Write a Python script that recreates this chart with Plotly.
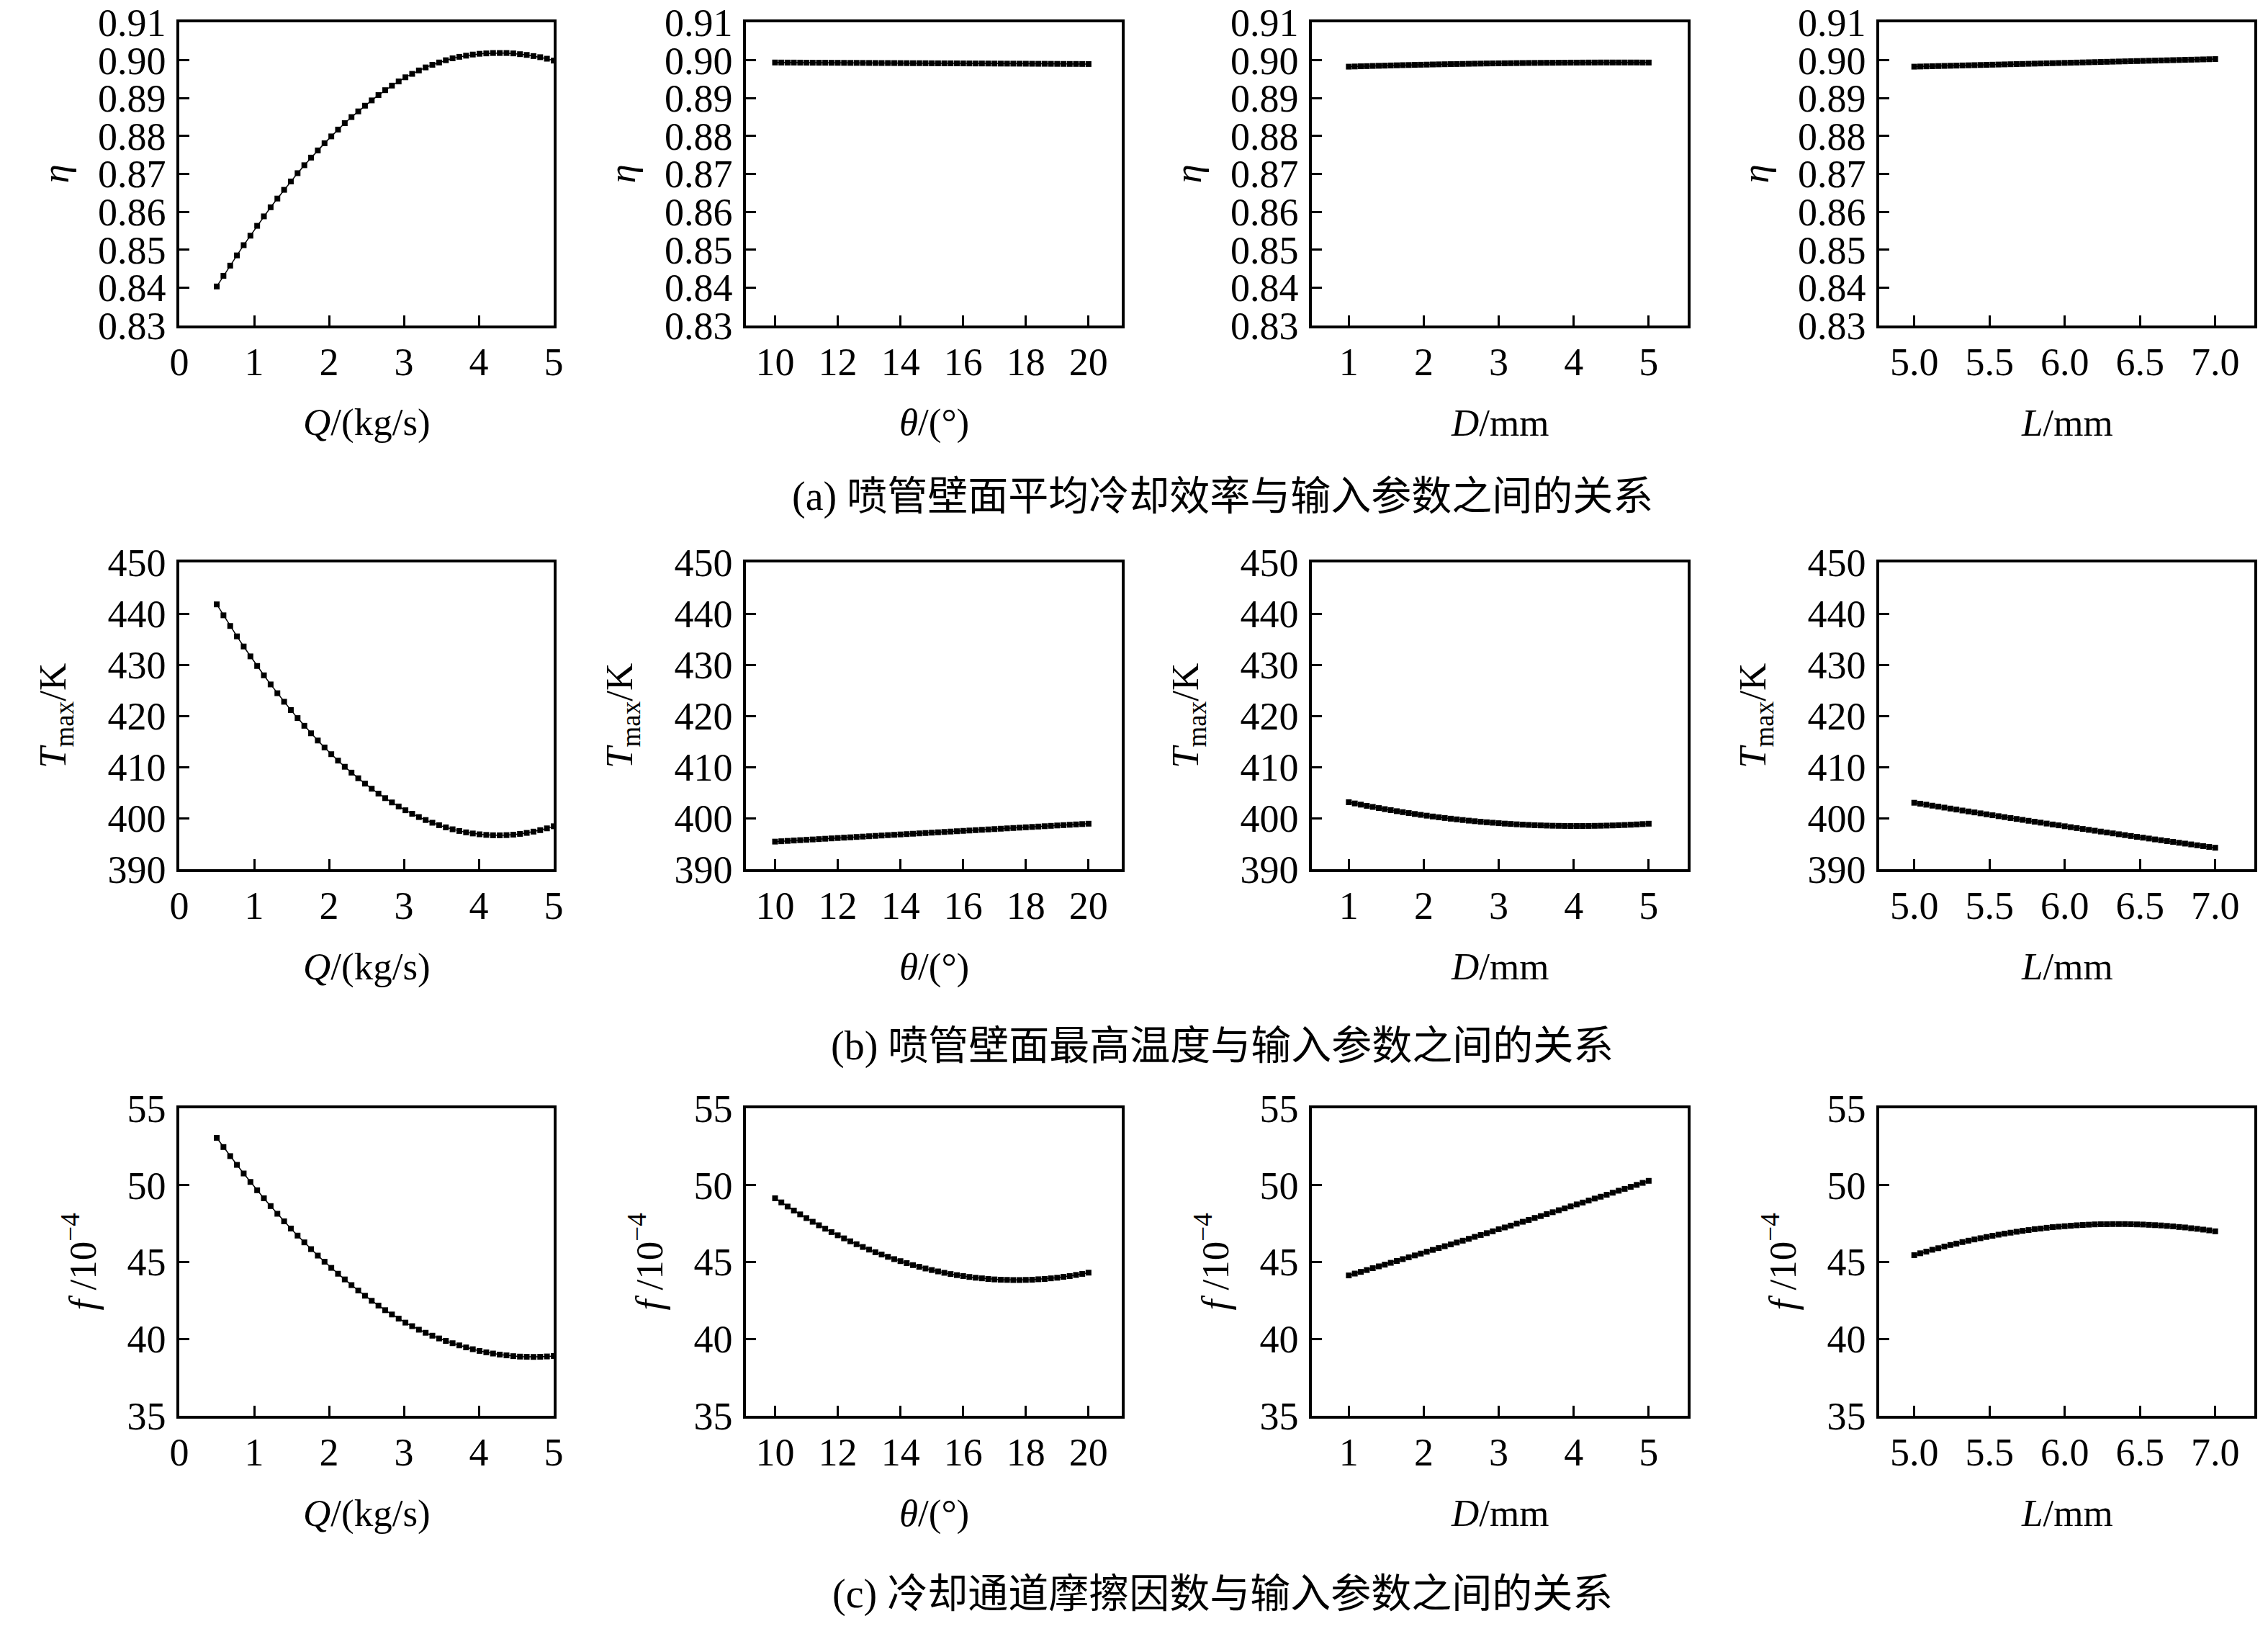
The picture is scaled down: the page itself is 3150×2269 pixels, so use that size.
import plotly.graph_objects as go
from plotly.subplots import make_subplots

W, H = 3150, 2269

# input parameters (x of every panel in a column)
q_vals = [0.50, 0.59, 0.68, 0.77, 0.86, 0.95, 1.04, 1.13, 1.22, 1.31, 1.40, 1.49, 1.58, 1.67, 1.76, 1.85, 1.94,
          2.03, 2.12, 2.21, 2.30, 2.39, 2.48, 2.57, 2.66, 2.75, 2.84, 2.93, 3.02, 3.11, 3.20, 3.29, 3.38, 3.47,
          3.56, 3.65, 3.74, 3.83, 3.92, 4.01, 4.10, 4.19, 4.28, 4.37, 4.46, 4.55, 4.64, 4.73, 4.82, 4.91, 5.00]
theta_vals = [10.0, 10.2, 10.4, 10.6, 10.8, 11.0, 11.2, 11.4, 11.6, 11.8, 12.0, 12.2, 12.4, 12.6, 12.8, 13.0, 13.2,
              13.4, 13.6, 13.8, 14.0, 14.2, 14.4, 14.6, 14.8, 15.0, 15.2, 15.4, 15.6, 15.8, 16.0, 16.2, 16.4, 16.6,
              16.8, 17.0, 17.2, 17.4, 17.6, 17.8, 18.0, 18.2, 18.4, 18.6, 18.8, 19.0, 19.2, 19.4, 19.6, 19.8, 20.0]
d_vals = [1.00, 1.08, 1.16, 1.24, 1.32, 1.40, 1.48, 1.56, 1.64, 1.72, 1.80, 1.88, 1.96, 2.04, 2.12, 2.20, 2.28,
          2.36, 2.44, 2.52, 2.60, 2.68, 2.76, 2.84, 2.92, 3.00, 3.08, 3.16, 3.24, 3.32, 3.40, 3.48, 3.56, 3.64,
          3.72, 3.80, 3.88, 3.96, 4.04, 4.12, 4.20, 4.28, 4.36, 4.44, 4.52, 4.60, 4.68, 4.76, 4.84, 4.92, 5.00]
l_vals = [5.00, 5.04, 5.08, 5.12, 5.16, 5.20, 5.24, 5.28, 5.32, 5.36, 5.40, 5.44, 5.48, 5.52, 5.56, 5.60, 5.64,
          5.68, 5.72, 5.76, 5.80, 5.84, 5.88, 5.92, 5.96, 6.00, 6.04, 6.08, 6.12, 6.16, 6.20, 6.24, 6.28, 6.32,
          6.36, 6.40, 6.44, 6.48, 6.52, 6.56, 6.60, 6.64, 6.68, 6.72, 6.76, 6.80, 6.84, 6.88, 6.92, 6.96, 7.00]

# (a) mean cooling efficiency
eta_q = [0.8403, 0.8431, 0.8458, 0.8485, 0.8512, 0.8537, 0.8563, 0.8588, 0.8612, 0.8635, 0.8658, 0.8680, 0.8702,
         0.8723, 0.8743, 0.8762, 0.8781, 0.8799, 0.8817, 0.8834, 0.8850, 0.8865, 0.8880, 0.8894, 0.8908, 0.8921,
         0.8933, 0.8944, 0.8955, 0.8964, 0.8973, 0.8981, 0.8988, 0.8994, 0.9000, 0.9005, 0.9009, 0.9012, 0.9015,
         0.9017, 0.9018, 0.9019, 0.9019, 0.9019, 0.9018, 0.9016, 0.9014, 0.9011, 0.9008, 0.9004, 0.8999]
eta_theta = [0.89940, 0.89939, 0.89938, 0.89938, 0.89937, 0.89936, 0.89935, 0.89934, 0.89934, 0.89933, 0.89932,
             0.89931, 0.89930, 0.89930, 0.89929, 0.89928, 0.89927, 0.89926, 0.89926, 0.89925, 0.89924, 0.89923,
             0.89922, 0.89922, 0.89921, 0.89920, 0.89919, 0.89918, 0.89918, 0.89917, 0.89916, 0.89915, 0.89914,
             0.89914, 0.89913, 0.89912, 0.89911, 0.89910, 0.89910, 0.89909, 0.89908, 0.89907, 0.89906, 0.89906,
             0.89905, 0.89904, 0.89903, 0.89902, 0.89902, 0.89901, 0.89900]
eta_d = [0.89830, 0.89835, 0.89840, 0.89844, 0.89849, 0.89853, 0.89857, 0.89862, 0.89866, 0.89870, 0.89873,
         0.89877, 0.89881, 0.89884, 0.89888, 0.89891, 0.89894, 0.89897, 0.89900, 0.89903, 0.89906, 0.89909,
         0.89911, 0.89914, 0.89916, 0.89918, 0.89920, 0.89922, 0.89924, 0.89926, 0.89928, 0.89929, 0.89931,
         0.89932, 0.89933, 0.89935, 0.89936, 0.89937, 0.89937, 0.89938, 0.89939, 0.89939, 0.89940, 0.89940,
         0.89940, 0.89940, 0.89940, 0.89940, 0.89940, 0.89939, 0.89939]
eta_l = [0.89830, 0.89834, 0.89838, 0.89842, 0.89846, 0.89850, 0.89854, 0.89858, 0.89862, 0.89866, 0.89870,
         0.89874, 0.89878, 0.89882, 0.89886, 0.89890, 0.89894, 0.89898, 0.89902, 0.89906, 0.89910, 0.89914,
         0.89918, 0.89922, 0.89926, 0.89930, 0.89934, 0.89938, 0.89942, 0.89946, 0.89950, 0.89954, 0.89958,
         0.89962, 0.89966, 0.89970, 0.89974, 0.89978, 0.89982, 0.89986, 0.89990, 0.89994, 0.89998, 0.90002,
         0.90006, 0.90010, 0.90014, 0.90018, 0.90022, 0.90026, 0.90030]

# (b) max wall temperature, K
tmax_q = [441.80, 439.66, 437.57, 435.54, 433.56, 431.63, 429.75, 427.92, 426.14, 424.42, 422.75, 421.13, 419.56,
          418.05, 416.58, 415.17, 413.81, 412.50, 411.24, 410.04, 408.89, 407.79, 406.74, 405.74, 404.79, 403.90,
          403.06, 402.27, 401.53, 400.84, 400.20, 399.62, 399.09, 398.61, 398.19, 397.81, 397.48, 397.21, 396.99,
          396.83, 396.71, 396.64, 396.63, 396.67, 396.76, 396.91, 397.10, 397.35, 397.64, 397.99, 398.40]
tmax_theta = [395.40, 395.47, 395.54, 395.61, 395.68, 395.75, 395.82, 395.89, 395.96, 396.03, 396.10, 396.17,
              396.24, 396.31, 396.38, 396.45, 396.52, 396.59, 396.66, 396.73, 396.80, 396.87, 396.94, 397.01,
              397.08, 397.15, 397.22, 397.29, 397.36, 397.43, 397.50, 397.57, 397.64, 397.71, 397.78, 397.85,
              397.92, 397.99, 398.06, 398.13, 398.20, 398.27, 398.34, 398.41, 398.48, 398.55, 398.62, 398.69,
              398.76, 398.83, 398.90]
tmax_d = [403.10, 402.86, 402.63, 402.40, 402.18, 401.96, 401.75, 401.55, 401.35, 401.16, 400.98, 400.80, 400.63,
          400.47, 400.31, 400.16, 400.02, 399.88, 399.75, 399.62, 399.50, 399.39, 399.28, 399.18, 399.09, 399.00,
          398.92, 398.85, 398.78, 398.72, 398.66, 398.61, 398.57, 398.53, 398.50, 398.48, 398.46, 398.45, 398.45,
          398.45, 398.46, 398.48, 398.50, 398.53, 398.56, 398.60, 398.65, 398.70, 398.76, 398.83, 398.90]
tmax_l = [403.00, 402.81, 402.62, 402.43, 402.24, 402.05, 401.86, 401.67, 401.48, 401.30, 401.11, 400.93, 400.74,
          400.55, 400.37, 400.19, 400.01, 399.83, 399.65, 399.47, 399.29, 399.11, 398.93, 398.75, 398.58, 398.40,
          398.22, 398.05, 397.87, 397.70, 397.53, 397.36, 397.18, 397.01, 396.84, 396.67, 396.50, 396.33, 396.17,
          396.00, 395.83, 395.67, 395.50, 395.34, 395.17, 395.01, 394.85, 394.68, 394.52, 394.36, 394.20]

# (c) friction factor, 1e-4
f_q = [53.08, 52.48, 51.89, 51.32, 50.76, 50.21, 49.67, 49.15, 48.64, 48.14, 47.65, 47.18, 46.72, 46.28, 45.84,
       45.42, 45.02, 44.62, 44.24, 43.87, 43.50, 43.15, 42.81, 42.48, 42.17, 41.87, 41.59, 41.32, 41.06, 40.83,
       40.60, 40.40, 40.21, 40.03, 39.87, 39.72, 39.58, 39.45, 39.33, 39.22, 39.13, 39.05, 38.98, 38.93, 38.88,
       38.85, 38.84, 38.83, 38.84, 38.86, 38.89]
f_theta = [49.15, 48.88, 48.61, 48.35, 48.10, 47.86, 47.62, 47.39, 47.17, 46.95, 46.74, 46.54, 46.35, 46.16, 45.98,
           45.81, 45.64, 45.49, 45.34, 45.19, 45.06, 44.93, 44.80, 44.69, 44.58, 44.48, 44.39, 44.30, 44.22, 44.15,
           44.09, 44.03, 43.98, 43.94, 43.90, 43.87, 43.85, 43.84, 43.83, 43.83, 43.84, 43.85, 43.88, 43.90, 43.94,
           43.98, 44.04, 44.09, 44.16, 44.23, 44.31]
f_d = [44.13, 44.25, 44.36, 44.48, 44.60, 44.72, 44.83, 44.95, 45.07, 45.19, 45.31, 45.43, 45.55, 45.67, 45.79,
       45.91, 46.03, 46.15, 46.27, 46.39, 46.51, 46.64, 46.76, 46.88, 47.00, 47.13, 47.25, 47.37, 47.50, 47.62,
       47.74, 47.87, 47.99, 48.12, 48.24, 48.37, 48.49, 48.62, 48.75, 48.87, 49.00, 49.13, 49.25, 49.38, 49.51,
       49.64, 49.76, 49.89, 50.02, 50.15, 50.28]
f_l = [45.45, 45.57, 45.68, 45.80, 45.90, 46.01, 46.11, 46.20, 46.30, 46.39, 46.47, 46.55, 46.63, 46.71, 46.78,
       46.85, 46.91, 46.97, 47.03, 47.08, 47.14, 47.18, 47.23, 47.27, 47.30, 47.33, 47.36, 47.39, 47.41, 47.43,
       47.45, 47.46, 47.46, 47.47, 47.47, 47.47, 47.46, 47.45, 47.44, 47.42, 47.40, 47.38, 47.35, 47.32, 47.28,
       47.25, 47.20, 47.16, 47.11, 47.06, 47.00]

x_data = [q_vals, theta_vals, d_vals, l_vals]
y_data = [[eta_q, eta_theta, eta_d, eta_l],
          [tmax_q, tmax_theta, tmax_d, tmax_l],
          [f_q, f_theta, f_d, f_l]]

x_titles = ["<i>Q</i>/(kg/s)", "<i>θ</i>/(°)", "<i>D</i>/mm", "<i>L</i>/mm"]
y_titles = ["<i>η</i>", "<i>T</i><sub>max</sub>/K", "<i>f</i> /10<sup>−4</sup>"]
captions = ["(a) 喷管壁面平均冷却效率与输入参数之间的关系",
            "(b) 喷管壁面最高温度与输入参数之间的关系",
            "(c) 冷却通道摩擦因数与输入参数之间的关系"]

x_tickvals = [[0, 1, 2, 3, 4, 5], [10, 12, 14, 16, 18, 20], [1, 2, 3, 4, 5], [5.0, 5.5, 6.0, 6.5, 7.0]]
x_tickfmt = ["d", "d", "d", ".1f"]
y_tickvals = [[0.83, 0.84, 0.85, 0.86, 0.87, 0.88, 0.89, 0.90, 0.91],
              [390, 400, 410, 420, 430, 440, 450],
              [35, 40, 45, 50, 55]]
y_tickfmt = [".2f", "d", "d"]

# layout in pixels
x_ranges = [[0, 5], [9.07, 21.06], [0.507, 5.52], [4.767, 7.26]]
y_ranges = [[0.83, 0.91], [390, 450], [35, 55]]
col_px = [(249, 769), (1036, 1558), (1822, 2344), (2610, 3131)]
row_px = [(31, 452), (781, 1207), (1539, 1966)]
ytitle_gap = [172, 172, 139]
xtitle_gap = 135
caption_y = [690, 1452, 2213]

FONT = "Liberation Serif, Noto Sans CJK SC"
TICK_FS = 54
TITLE_FS = 53
CAP_FS = 56

fig = make_subplots(rows=3, cols=4)

axis_style = dict(
    showline=True, linecolor="black", linewidth=3.5, mirror=True,
    ticks="inside", ticklen=14, tickwidth=3, tickcolor="black",
    showgrid=False, zeroline=False, automargin=False, ticklabeloverflow="allow",
    tickfont=dict(family=FONT, size=TICK_FS, color="black"),
)

for r in range(3):
    for c in range(4):
        fig.add_trace(go.Scatter(
            x=x_data[c], y=y_data[r][c], mode="lines+markers",
            line=dict(color="black", width=1.5),
            marker=dict(symbol="square", size=8, color="black"),
            showlegend=False,
        ), row=r + 1, col=c + 1)
        fig.update_xaxes(
            domain=[col_px[c][0] / W, col_px[c][1] / W], range=x_ranges[c],
            tickvals=x_tickvals[c], tickformat=x_tickfmt[c], ticklabelstandoff=0,
            row=r + 1, col=c + 1, **axis_style)
        fig.update_yaxes(
            domain=[1 - row_px[r][1] / H, 1 - row_px[r][0] / H], range=y_ranges[r],
            tickvals=y_tickvals[r], tickformat=y_tickfmt[r], ticklabelstandoff=4,
            row=r + 1, col=c + 1, **axis_style)

        # axis titles
        cx = (col_px[c][0] + col_px[c][1]) / 2
        fig.add_annotation(text=x_titles[c], x=cx / W, y=1 - (row_px[r][1] + xtitle_gap) / H,
                           xref="paper", yref="paper", showarrow=False,
                           xanchor="center", yanchor="middle",
                           font=dict(family=FONT, size=TITLE_FS, color="black"))
        cy = (row_px[r][0] + row_px[r][1]) / 2
        fig.add_annotation(text=y_titles[r], x=(col_px[c][0] - ytitle_gap[r]) / W, y=1 - cy / H,
                           xref="paper", yref="paper", showarrow=False, textangle=-90,
                           xanchor="center", yanchor="middle",
                           font=dict(family=FONT, size=TITLE_FS, color="black"))

for r in range(3):
    fig.add_annotation(text=captions[r], x=1698 / W, y=1 - caption_y[r] / H,
                       xref="paper", yref="paper", showarrow=False,
                       xanchor="center", yanchor="middle",
                       font=dict(family=FONT, size=CAP_FS, color="black"))

fig.update_layout(
    width=W, height=H,
    margin=dict(l=0, r=0, t=0, b=0, autoexpand=False),
    paper_bgcolor="white", plot_bgcolor="white",
    font=dict(family=FONT, size=TITLE_FS, color="black"),
)

fig.write_html("out.html", config={"displayModeBar": False},
               post_script="document.body.style.margin='0px';")
